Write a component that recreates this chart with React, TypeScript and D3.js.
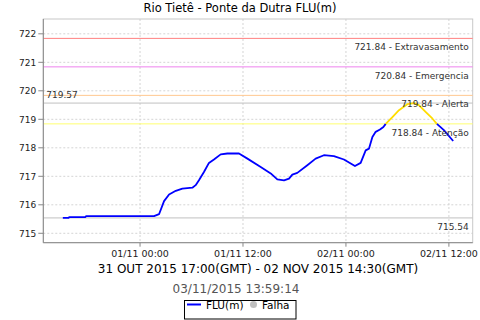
import React from "react";
import * as d3 from "d3";

const title = "Rio Tietê - Ponte da Dutra FLU(m)";
const periodLabel = "31 OUT 2015 17:00(GMT) - 02 NOV 2015 14:30(GMT)";
const stampLabel = "03/11/2015 13:59:14";

const times = [
  "2015-10-31 15:00", "2015-10-31 15:40", "2015-10-31 15:45", "2015-10-31 17:38", "2015-10-31 17:42",
  "2015-11-01 01:38", "2015-11-01 02:13", "2015-11-01 02:48", "2015-11-01 03:23", "2015-11-01 04:10",
  "2015-11-01 04:56", "2015-11-01 06:06", "2015-11-01 06:29", "2015-11-01 06:52", "2015-11-01 07:27",
  "2015-11-01 08:02", "2015-11-01 08:37", "2015-11-01 09:24", "2015-11-01 10:11", "2015-11-01 11:32",
  "2015-11-01 12:31", "2015-11-01 14:04", "2015-11-01 15:14", "2015-11-01 16:00", "2015-11-01 16:47",
  "2015-11-01 17:22", "2015-11-01 17:45", "2015-11-01 18:20", "2015-11-01 19:30", "2015-11-01 20:28",
  "2015-11-01 21:26", "2015-11-01 22:36", "2015-11-01 23:46", "2015-11-02 01:03", "2015-11-02 01:43",
  "2015-11-02 02:18", "2015-11-02 02:41", "2015-11-02 03:05", "2015-11-02 03:28", "2015-11-02 03:58",
  "2015-11-02 04:22", "2015-11-02 04:38", "2015-11-02 05:25", "2015-11-02 06:11", "2015-11-02 07:09",
  "2015-11-02 07:55", "2015-11-02 08:30", "2015-11-02 09:17", "2015-11-02 10:04", "2015-11-02 10:34",
  "2015-11-02 11:25", "2015-11-02 12:30",
];
const values = [
  715.54, 715.54, 715.57, 715.57, 715.6,
  715.6, 715.67, 716.13, 716.36, 716.49,
  716.57, 716.6, 716.69, 716.86, 717.15,
  717.47, 717.59, 717.77, 717.8, 717.8,
  717.62, 717.33, 717.1, 716.89, 716.86,
  716.92, 717.06, 717.12, 717.39, 717.62,
  717.74, 717.71, 717.59, 717.36, 717.47,
  717.91, 717.97, 718.38, 718.56, 718.64,
  718.73, 718.84, 719.08, 719.32, 719.53,
  719.57, 719.5, 719.26, 719.03, 718.85,
  718.62, 718.24,
];

const thresholdValues = [721.84, 720.84, 719.84, 718.84];
const thresholdNames = ["Extravasamento", "Emergencia", "Alerta", "Atenção"];
const thresholdColors = ["#ff8080", "#ee82ee", "#ffc890", "#ffff70"];

const yTicks = [715, 716, 717, 718, 719, 720, 721, 722];
const xTickTimes = ["2015-11-01 00:00", "2015-11-01 12:00", "2015-11-02 00:00", "2015-11-02 12:00"];

const parse = d3.timeParse("%Y-%m-%d %H:%M");
const fmt = d3.timeFormat("%d/%m %H:%M");

export default function App() {
  const W = 480, H = 320;
  const left = 43.3, right = 472.7, top = 19, bottom = 242.7;
  const font = "'DejaVu Sans', sans-serif";

  const dates = times.map((t) => parse(t) as Date);
  const t0 = dates[0].getTime();
  const t1 = dates[dates.length - 1].getTime();
  const pad = (t1 - t0) * 0.05;
  const x = d3.scaleTime().domain([new Date(t0 - pad), new Date(t1 + pad)]).range([left, right]);
  const y = d3.scaleLinear().domain([714.67, 722.52]).range([bottom, top]);

  const maxV = d3.max(values) as number;
  const minV = d3.min(values) as number;
  const attention = thresholdValues[3];

  type P = { d: Date; v: number };
  const pts: P[] = dates.map((d, i) => ({ d, v: values[i] }));
  const segs: { above: boolean; pts: P[] }[] = [];
  let cur: { above: boolean; pts: P[] } | null = null;
  for (let i = 0; i < pts.length; i++) {
    const p = pts[i];
    const ab = p.v > attention;
    if (!cur) {
      cur = { above: ab, pts: [p] };
      continue;
    }
    if (ab === cur.above) {
      cur.pts.push(p);
    } else {
      const q = pts[i - 1];
      const f = (attention - q.v) / (p.v - q.v);
      const cd = new Date(q.d.getTime() + f * (p.d.getTime() - q.d.getTime()));
      const cp = { d: cd, v: attention };
      cur.pts.push(cp);
      segs.push(cur);
      cur = { above: ab, pts: [cp, p] };
    }
  }
  if (cur) segs.push(cur);

  const line = d3
    .line<P>()
    .x((p) => x(p.d))
    .y((p) => y(p.v));

  const xTicks = xTickTimes.map((t) => parse(t) as Date);
  const cx = (left + right) / 2;

  return (
    <svg
      width={W}
      height={H}
      style={{ position: "absolute", left: 0, top: 0, background: "#fff" }}
      fontFamily={font}
    >
      <rect x={0} y={0} width={W} height={H} fill="#fff" />
      <text x={240} y={12} textAnchor="middle" fontSize={11.5} fill="#000">
        {title}
      </text>

      {yTicks.map((t) => (
        <line key={"gy" + t} x1={left} x2={right} y1={y(t)} y2={y(t)} stroke="#d4d4d4" strokeDasharray="2,2" />
      ))}
      {xTicks.map((t, i) => (
        <line key={"gx" + i} x1={x(t)} x2={x(t)} y1={top} y2={bottom} stroke="#d4d4d4" strokeDasharray="2,2" />
      ))}

      <rect x={left} y={top} width={right - left} height={bottom - top} fill="none" stroke="#c8c8c8" />

      {thresholdValues.map((v, i) => (
        <line key={"th" + i} x1={left} x2={right} y1={y(v)} y2={y(v)} stroke={thresholdColors[i]} strokeWidth={1} />
      ))}
      <line x1={left} x2={right} y1={y(maxV)} y2={y(maxV)} stroke="#c0c0c0" />
      <line x1={left} x2={right} y1={y(minV)} y2={y(minV)} stroke="#c0c0c0" />

      {segs.map((s, i) => (
        <path
          key={"s" + i}
          d={line(s.pts) || ""}
          fill="none"
          stroke={s.above ? "#ffdd00" : "#0000ff"}
          strokeWidth={1.8}
          strokeLinejoin="round"
        />
      ))}

      {thresholdValues.map((v, i) => (
        <text key={"tl" + i} x={right - 4} y={y(v) + 12} textAnchor="end" fontSize={9} fill="#333">
          {`${v.toFixed(2)} - ${thresholdNames[i]}`}
        </text>
      ))}
      <text x={left + 3} y={y(maxV) - 5} fontSize={9} fill="#333">
        {maxV.toFixed(2)}
      </text>
      <text x={right - 4} y={y(minV) + 12} textAnchor="end" fontSize={9} fill="#333">
        {minV.toFixed(2)}
      </text>

      <line x1={left} x2={left} y1={top} y2={bottom} stroke="#888" />
      <line x1={left} x2={right} y1={bottom} y2={bottom} stroke="#888" />
      {yTicks.map((t) => (
        <g key={"yt" + t}>
          <line x1={left - 5} x2={left} y1={y(t)} y2={y(t)} stroke="#888" />
          <text x={left - 7} y={y(t) + 3.3} textAnchor="end" fontSize={9} fill="#222">
            {t}
          </text>
        </g>
      ))}
      {xTicks.map((t, i) => (
        <g key={"xt" + i}>
          <line x1={x(t)} x2={x(t)} y1={bottom} y2={bottom + 4} stroke="#888" />
          <text x={x(t)} y={bottom + 14} textAnchor="middle" fontSize={9.5} fill="#222">
            {fmt(t)}
          </text>
        </g>
      ))}

      <text x={cx} y={272.5} textAnchor="middle" fontSize={12} fill="#000">
        {periodLabel}
      </text>
      <text x={236} y={293} textAnchor="middle" fontSize={12} fill="#555">
        {stampLabel}
      </text>

      <rect x={184.5} y={300.5} width={111.5} height={18.5} fill="#fff" stroke="#000" />
      <line x1={187} x2={201} y1={304.5} y2={304.5} stroke="#0000ff" strokeWidth={2} />
      <text x={206} y={308.5} fontSize={10.5} fill="#000">
        FLU(m)
      </text>
      <circle cx={253.5} cy={304.5} r={3.5} fill="#c0c0c0" />
      <text x={262} y={308.5} fontSize={10.5} fill="#000">
        Falha
      </text>
    </svg>
  );
}
